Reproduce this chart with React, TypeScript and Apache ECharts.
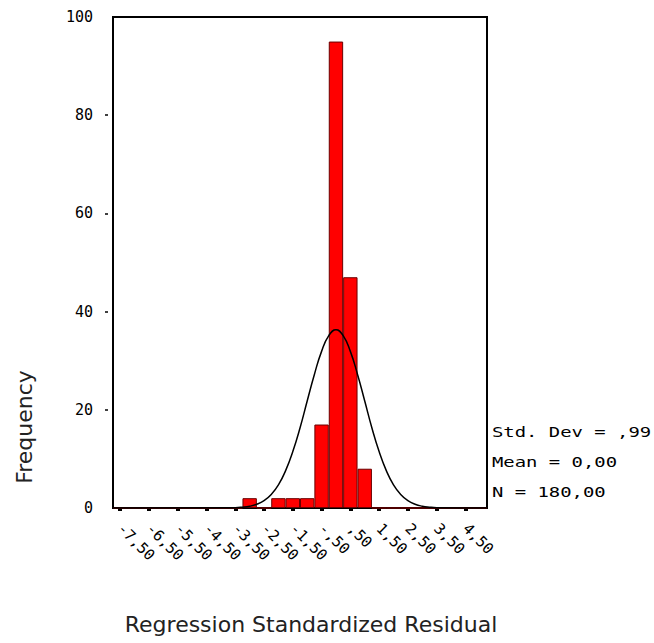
import React, { useEffect, useRef } from "react";
import * as echarts from "echarts";

// Histogram bins (bin midpoints, width 0,50)
const binLabels = [
  "-7,50", "-7,00", "-6,50", "-6,00", "-5,50", "-5,00", "-4,50", "-4,00", "-3,50",
  "-3,00", "-2,50", "-2,00", "-1,50", "-1,00", "-,50", "0,00", ",50", "1,00",
  "1,50", "2,00", "2,50", "3,00", "3,50", "4,00", "4,50", "5,00",
];
const frequencies = [
  0, 0, 0, 0, 0, 0, 0, 0, 0,
  2, 0, 2, 2, 2, 17, 95, 47, 8,
  0, 0, 0, 0, 0, 0, 0, 0,
];

// Normal curve
const curveX = [
  -7.75, -3.5, -3.25, -3.0, -2.75, -2.5, -2.25, -2.0, -1.75, -1.5, -1.25, -1.0, -0.75, -0.5, -0.25,
  0, 0.25, 0.5, 0.75, 1.0, 1.25, 1.5, 1.75, 2.0, 2.25, 2.5, 2.75, 3.0, 3.25, 3.5, 5.25,
];
const curveY = [
  0, 0.07, 0.17, 0.37, 0.77, 1.5, 2.74, 4.71, 7.61, 11.5, 16.3, 21.8, 27.2, 31.9, 35.1,
  36.3, 35.1, 31.9, 27.2, 21.8, 16.3, 11.5, 7.61, 4.71, 2.74, 1.5, 0.77, 0.37, 0.17, 0.07, 0,
];

const yTicks = [0, 20, 40, 60, 80, 100];
const statLines = ["Std. Dev = ,99", "Mean = 0,00", "N = 180,00"];
const xTitle = "Regression Standardized Residual";
const yTitle = "Frequency";

export default function App() {
  const ref = useRef<HTMLDivElement>(null);
  useEffect(() => {
    if (!ref.current) return;
    const chart = echarts.init(ref.current, null, { renderer: "svg" });
    const font = "DejaVu Sans";
    const mono = "DejaVu Sans Mono";
    chart.setOption({
      animation: false,
      backgroundColor: "#ffffff",
      grid: {
        left: 113,
        right: 167,
        top: 17,
        bottom: 135,
        show: true,
        borderColor: "#000",
        borderWidth: 2,
        backgroundColor: "transparent",
      },
      xAxis: [
        {
          type: "category",
          data: binLabels,
          boundaryGap: true,
          axisLine: { show: true, onZero: false, lineStyle: { color: "#000", width: 2 } },
          axisTick: {
            show: true,
            interval: 1,
            alignWithLabel: true,
            length: 3,
            lineStyle: { color: "#000", width: 4 },
          },
          axisLabel: {
            interval: 1,
            rotate: -45,
            margin: 18,
            color: "#000",
            fontFamily: mono,
            fontSize: 15,
          },
          splitLine: { show: false },
        },
        {
          type: "value",
          min: -7.75,
          max: 5.25,
          show: false,
          axisLine: { onZero: false },
        },
      ],
      yAxis: [
        {
          type: "value",
          min: yTicks[0],
          max: yTicks[yTicks.length - 1],
          interval: 20,
          axisLine: { show: true, onZero: false, lineStyle: { color: "#000", width: 2 } },
          axisTick: { show: false },
          axisLabel: {
            margin: 20,
            color: "#000",
            fontFamily: mono,
            fontSize: 15,
          },
          splitLine: { show: false },
        },
        {
          type: "value",
          min: yTicks[0],
          max: yTicks[yTicks.length - 1],
          interval: 20,
          position: "left",
          offset: 5,
          axisLine: { show: false, onZero: false },
          axisTick: {
            show: true,
            length: 3,
            customValues: yTicks.slice(1, -1),
            lineStyle: { color: "#000", width: 1.5 },
          },
          axisLabel: { show: false },
          splitLine: { show: false },
        },
      ],
      series: [
        {
          type: "bar",
          xAxisIndex: 0,
          yAxisIndex: 0,
          data: frequencies,
          barCategoryGap: "0%",
          itemStyle: { color: "#ff0000", borderColor: "#6a0000", borderWidth: 1 },
          z: 2,
        },
        {
          type: "line",
          xAxisIndex: 1,
          yAxisIndex: 0,
          data: curveX.map((x, i) => [x, curveY[i]]),
          smooth: true,
          showSymbol: false,
          symbol: "none",
          lineStyle: { color: "#000", width: 1.5 },
          z: 3,
        },
      ],
      graphic: [
        {
          type: "text",
          x: 311,
          y: 624,
          style: {
            text: xTitle,
            fontFamily: font,
            fontSize: 22,
            fill: "#222",
            align: "center",
            verticalAlign: "middle",
          },
        },
        {
          type: "text",
          x: 24,
          y: 427,
          rotation: Math.PI / 2,
          style: {
            text: yTitle,
            fontFamily: font,
            fontSize: 22,
            fill: "#222",
            align: "center",
            verticalAlign: "middle",
          },
        },
        ...statLines.map((t, i) => ({
          type: "text",
          x: 492,
          y: 432 + i * 30,
          scaleX: 1.35,
          style: {
            text: t,
            fontFamily: mono,
            fontSize: 14,
            fill: "#000",
            align: "left",
            verticalAlign: "middle",
          },
        })),
      ],
    });
    return () => chart.dispose();
  }, []);
  return (
    <div
      ref={ref}
      style={{ position: "absolute", left: 0, top: 0, width: 654, height: 643, background: "#fff" }}
    />
  );
}
